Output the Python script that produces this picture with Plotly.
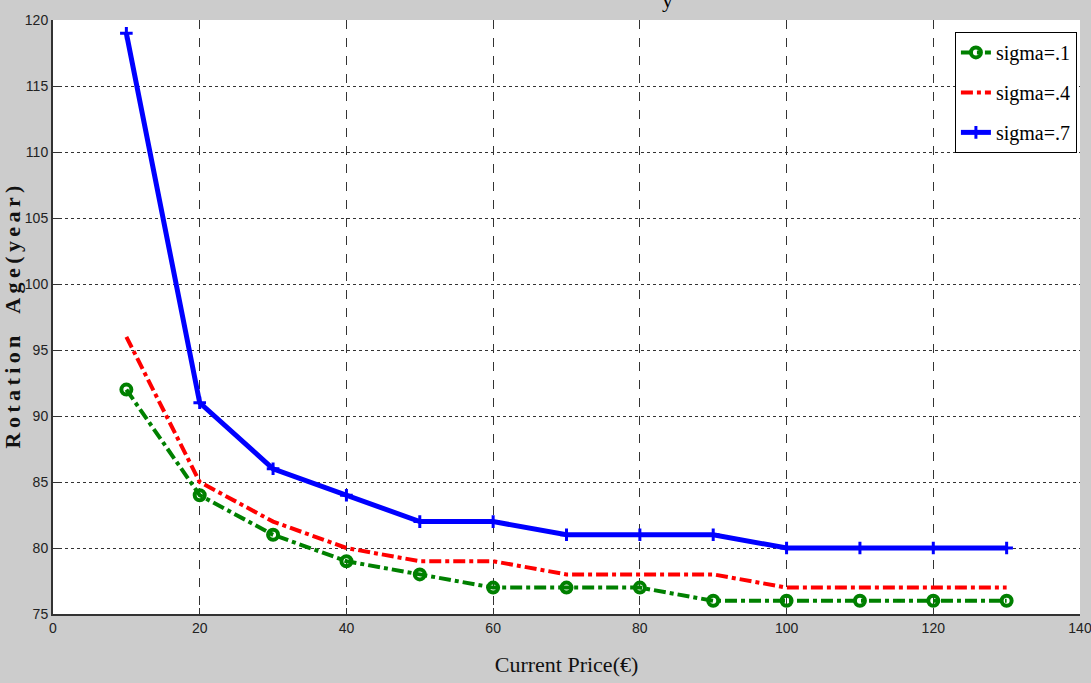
import plotly.graph_objects as go

price = [10, 20, 30, 40, 50, 60, 70, 80, 90, 100, 110, 120, 130]
sigma_1 = [92, 84, 81, 79, 78, 77, 77, 77, 76, 76, 76, 76, 76]
sigma_4 = [96, 85, 82, 80, 79, 79, 78, 78, 78, 77, 77, 77, 77]
sigma_7 = [119, 91, 86, 84, 82, 82, 81, 81, 81, 80, 80, 80, 80]
x_ticks = [0, 20, 40, 60, 80, 100, 120, 140]
y_ticks = [75, 80, 85, 90, 95, 100, 105, 110, 115, 120]

fig = go.Figure()
fig.add_trace(go.Scatter(x=price, y=sigma_1, name="sigma=.1", mode="lines+markers",
                         legendgroup="a",
                         line=dict(color="#008000", width=4, dash="dashdot"),
                         marker=dict(symbol="circle-open", size=10, color="#008000",
                                     line=dict(width=4, color="#008000"))))
fig.add_trace(go.Scatter(x=price, y=sigma_4, name="sigma=.4", mode="lines",
                         legendgroup="b",
                         line=dict(color="#FF0000", width=4, dash="dashdot")))
fig.add_trace(go.Scatter(x=price, y=sigma_7, name="sigma=.7", mode="lines+markers",
                         legendgroup="c",
                         line=dict(color="#0000FF", width=5),
                         marker=dict(symbol="cross-thin", size=9, color="#0000FF",
                                     line=dict(width=3, color="#0000FF"))))

fig.add_annotation(text="y", x=0.598, y=1.0, xref="paper", yref="paper",
                   yanchor="bottom", yshift=6, showarrow=False,
                   font=dict(family="Liberation Serif", size=22, color="black"))

sp = "\u2009"
ytitle = sp.join("Rotation") + "\u2002\u2002" + sp.join("Age(year)")

fig.update_layout(
    width=1091, height=683,
    paper_bgcolor="#CCCCCC", plot_bgcolor="white",
    margin=dict(l=53, r=11, t=20, b=69),
    showlegend=True,
    legend=dict(x=0.997, y=0.98, xanchor="right", yanchor="top",
                bgcolor="white", bordercolor="black", borderwidth=1,
                font=dict(family="Liberation Serif", size=20, color="black"),
                itemwidth=30, tracegroupgap=11, traceorder="grouped"),
    xaxis=dict(range=[0, 140], tickvals=x_ticks, ticks="inside", ticklen=6,
               tickcolor="#333", showline=True, linecolor="#333", linewidth=2,
               mirror=False, showgrid=True, gridcolor="#333", griddash="dash",
               gridwidth=1, zeroline=False, automargin=False,
               ticklabeloverflow="allow",
               tickfont=dict(family="Liberation Sans Narrow, Liberation Sans", size=14, color="#222"),
               title=dict(text="Current Price(€)", standoff=22,
                          font=dict(family="Liberation Serif", size=22, color="#111"))),
    yaxis=dict(range=[75, 120], tickvals=y_ticks, ticks="inside", ticklen=6,
               tickcolor="#333", showline=True, linecolor="#333", linewidth=2,
               showgrid=True, gridcolor="#333", griddash="dot", gridwidth=1,
               zeroline=False, automargin=False, ticklabeloverflow="allow",
               tickfont=dict(family="Liberation Sans Narrow, Liberation Sans", size=14, color="#222"),
               title=dict(text="<b>" + ytitle + "</b>", standoff=2,
                          font=dict(family="Liberation Serif", size=22, color="#111"))),
)

fig.write_html("out.html")
